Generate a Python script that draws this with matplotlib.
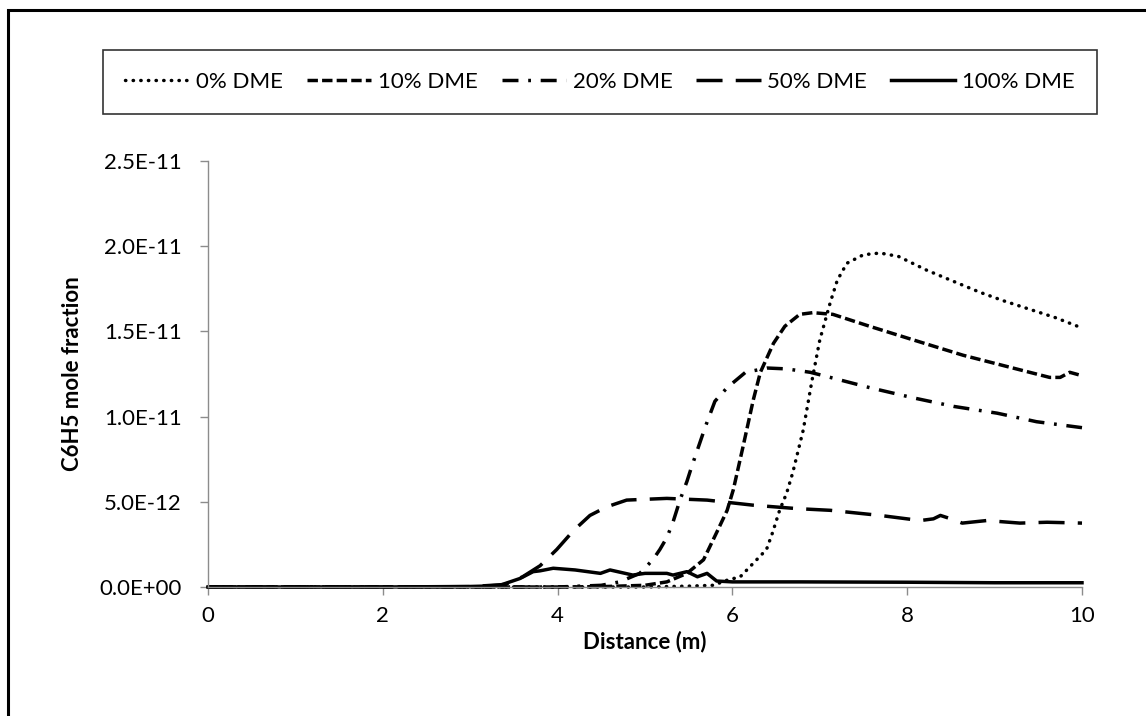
import matplotlib
matplotlib.use("Agg")
import matplotlib.pyplot as plt
from matplotlib.patches import Rectangle
from matplotlib.ticker import FuncFormatter, MultipleLocator

plt.rcParams['font.family'] = ['Lato', 'DejaVu Sans']

# ---- data (y in units of 1e-12) ----
x0 = [0, 2, 4, 5, 5.5, 5.78, 5.94, 6.09, 6.24, 6.39, 6.46, 6.54, 6.62, 6.69, 6.81, 6.91, 7.0, 7.12,
      7.2, 7.31, 7.5, 7.69, 7.9, 8.22, 8.5, 8.83, 9.1, 9.4, 9.7, 10]
y0 = [0, 0, 0, 0, 0.05, 0.1, 0.4, 0.6, 1.4, 2.2, 3.2, 4.5, 5.5, 6.7, 9.2, 12.1, 14.5, 16.7,
      18.0, 19.0, 19.5, 19.6, 19.4, 18.6, 18.0, 17.3, 16.8, 16.3, 15.8, 15.2]

x10 = [0, 2, 4, 4.5, 5.0, 5.25, 5.48, 5.67, 5.82, 5.94, 6.01, 6.12, 6.24, 6.32, 6.47, 6.6, 6.77,
       6.92, 7.15, 7.57, 8.07, 8.64, 9.21, 9.63, 9.75, 9.86, 10]
y10 = [0, 0, 0, 0.02, 0.1, 0.3, 0.8, 1.6, 3.2, 4.5, 5.7, 8.2, 11.0, 12.6, 14.3, 15.3, 16.0,
       16.1, 16.0, 15.3, 14.5, 13.6, 12.85, 12.3, 12.3, 12.6, 12.4]

x20 = [0, 2, 4, 4.5, 4.71, 4.94, 5.09, 5.17, 5.25, 5.32, 5.4, 5.48, 5.53, 5.63, 5.69, 5.8, 5.94,
       6.15, 6.4, 6.62, 6.89, 7.12, 7.57, 8.07, 8.53, 9.03, 9.48, 10]
y20 = [0, 0, 0, 0.1, 0.3, 0.8, 1.6, 2.2, 2.9, 3.8, 5.1, 6.2, 7.0, 8.5, 9.4, 10.9, 11.7,
       12.6, 12.85, 12.8, 12.6, 12.3, 11.7, 11.1, 10.6, 10.2, 9.7, 9.35]

x50 = [0, 2, 3, 3.4, 3.6, 3.8, 3.99, 4.18, 4.37, 4.56, 4.79, 5.25, 5.71, 6.24, 6.74, 7.12, 7.69,
       8.15, 8.3, 8.38, 8.5, 8.63, 8.91, 9.29, 9.6, 10]
y50 = [0, 0, 0.02, 0.15, 0.6, 1.25, 2.2, 3.3, 4.2, 4.7, 5.1, 5.2, 5.1, 4.8, 4.6, 4.5, 4.2,
       3.9, 4.0, 4.2, 4.0, 3.75, 3.9, 3.75, 3.8, 3.75]

x100 = [0, 2, 3, 3.15, 3.34, 3.57, 3.72, 3.8, 3.95, 4.2, 4.49, 4.6, 4.86, 5.0, 5.25, 5.32, 5.48,
        5.6, 5.71, 5.82, 6.0, 6.77, 8, 9, 10]
y100 = [0, 0, 0.03, 0.05, 0.1, 0.5, 0.9, 0.95, 1.1, 1.0, 0.8, 1.0, 0.7, 0.8, 0.8, 0.7, 0.9,
        0.6, 0.8, 0.35, 0.3, 0.3, 0.28, 0.25, 0.25]

labels = ['0% DME', '10% DME', '20% DME', '50% DME', '100% DME']
x_ticks = [0, 2, 4, 6, 8, 10]

fig = plt.figure(figsize=(11.46, 7.16), dpi=100)

# outer border (left/top visible)
fig.patches.append(Rectangle((8 / 1146, -0.05), 1.2, (716 - 10) / 716 + 0.05,
                             transform=fig.transFigure, fill=False,
                             edgecolor='black', linewidth=2.2, zorder=0))

ax = fig.add_axes([208 / 1146, 129 / 716, 874 / 1146, 426 / 716])

scale = 1e-12
lw = 2.5
styles = [
    dict(linestyle=(0, (0.1, 2.1)), dash_capstyle='round'),
    dict(linestyle=(0, (3.0, 1.2)), dash_capstyle='butt'),
    dict(linestyle=(0, (4.6, 2.8, 0.8, 2.8)), dash_capstyle='butt'),
    dict(linestyle=(0, (7.5, 3.8)), dash_capstyle='butt'),
    dict(linestyle='-'),
]
series = [(x0, y0), (x10, y10), (x20, y20), (x50, y50), (x100, y100)]
for (xs, ys), lab, st in zip(series, labels, styles):
    ax.plot(xs, [v * scale for v in ys], color='black', linewidth=lw, label=lab,
            clip_on=False, **st)

ax.set_xlim(0, 10)
ax.set_ylim(0, 2.5e-11)
ax.set_xticks(x_ticks)
ax.yaxis.set_major_locator(MultipleLocator(5e-12))
ax.yaxis.set_major_formatter(FuncFormatter(lambda v, p: f"{v:.1E}"))

for s in ['top', 'right']:
    ax.spines[s].set_visible(False)
for s in ['left', 'bottom']:
    ax.spines[s].set_color('#8c8c8c')
    ax.spines[s].set_linewidth(1.0)

ax.tick_params(axis='both', direction='out', length=6, width=1.0, color='#8c8c8c',
               labelsize=16, labelcolor='black')
ax.tick_params(axis='y', pad=13)
ax.tick_params(axis='x', pad=8)

ax.set_xlabel('Distance (m)', fontsize=16, fontweight='bold', labelpad=3)
ax.set_ylabel('C6H5 mole fraction', fontsize=16, fontweight='bold', labelpad=12)

leg = fig.legend(loc='center', bbox_to_anchor=(103 / 1146, (716 - 116) / 716, 994 / 1146, 68 / 716),
                 mode='expand', ncol=5, fontsize=16, frameon=True, fancybox=False,
                 edgecolor='black', handlelength=2.9, handletextpad=0.3,
                 borderaxespad=0, borderpad=1.0)
leg.get_frame().set_linewidth(1.2)

fig.savefig('out.png', dpi=100)
